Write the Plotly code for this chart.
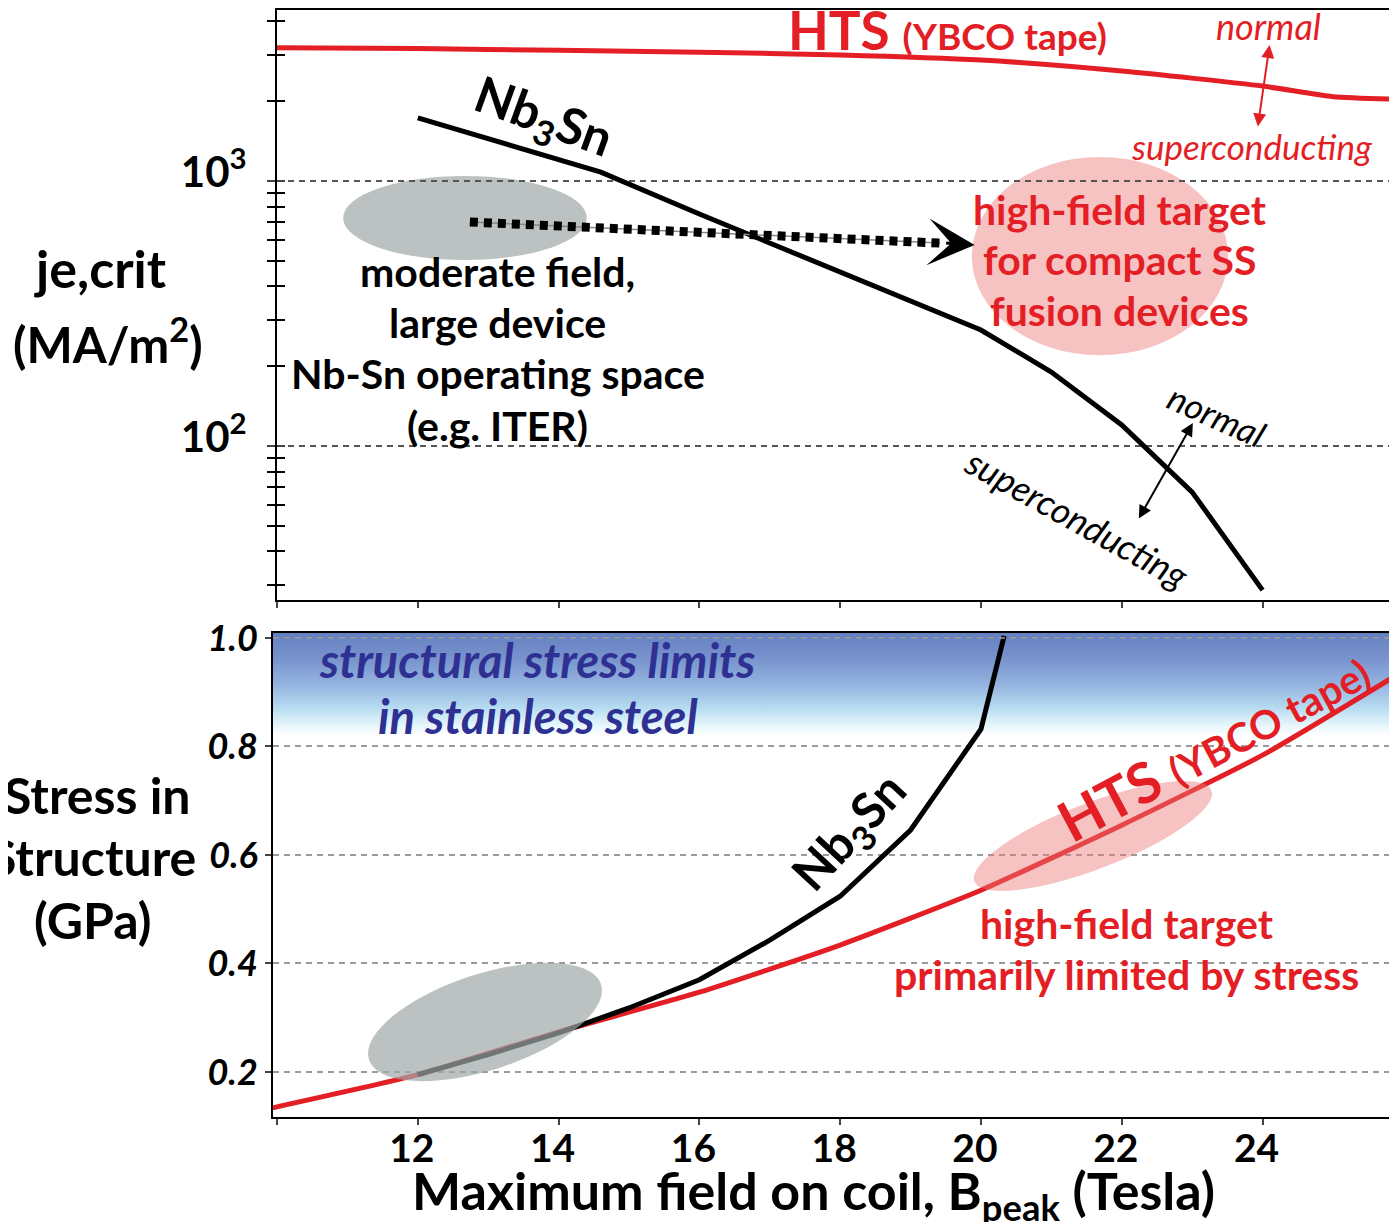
import numpy as np
import plotly.graph_objects as go

# page is drawn with an 8px body margin, so the figure is sized to fill the rest
OFF = 8
W, H = 1397 - OFF, 1222 - OFF

# ---------------- data ----------------
field_hts_top = [10, 12, 14, 16, 18, 20, 22, 24, 25, 25.8]
je_hts = [3180, 3160, 3110, 3060, 2990, 2860, 2600, 2280, 2080, 2040]
field_nb_top = [12, 14.6, 16, 18, 20, 21, 22, 23, 24]
je_nb = [1730, 1080, 750, 455, 274, 190, 120, 67, 28.6]

field_hts_bot = [9.94, 12, 14, 16, 18, 20, 22, 24, 25.91]
stress_hts = [0.134, 0.195, 0.274, 0.347, 0.434, 0.535, 0.655, 0.784, 0.932]
field_nb_bot = [12, 13, 14, 15, 16, 17, 18, 19, 20, 20.33]
stress_nb = [0.195, 0.232, 0.272, 0.318, 0.370, 0.443, 0.524, 0.646, 0.832, 1.004]

arrow_field = [12.74, 19.42]
arrow_je = [700, 583]

steel_field = [9.94, 25.91]
steel_stress = [0.82, 1.0092]

x_ticks = [10, 12, 14, 16, 18, 20, 22, 24]
x_ticktext = ["", "12", "14", "16", "18", "20", "22", "24"]
je_major = [100, 1000]
je_major_text = ["10<sup>2</sup>", "10<sup>3</sup>"]
je_minor = [30, 40, 50, 60, 70, 80, 90, 200, 300, 400, 500, 600, 700, 800, 900, 2000, 3000, 4000]
stress_ticks = [0.2, 0.4, 0.6, 0.8, 1.0]
stress_ticktext = ["0.2", "0.4", "0.6", "0.8", "1.0"]


# ---------------- geometry (page pixels -> paper) ----------------
def pxx(p):
    return (p - OFF) / W


def pxy(p):
    return 1 - (p - OFF) / H


top_dom = [pxy(600), pxy(10)]
bot_dom = [pxy(1117), pxy(633)]
xr_top = [10, 25.91]
xr_bot = [9.943, 25.91]
yr_top = [1.419, 3.645]
yr_bot = [0.117, 1.0092]

RED = "#e31e24"
BLUE = "#2e3192"
FONT = "Lato"

px_per_x = (1397 - 273) / (xr_bot[1] - xr_bot[0])
px_per_s = (1117 - 633) / (yr_bot[1] - yr_bot[0])


def ellipse_path(cx, cy, a_px, b_px, ang_deg, n=72):
    t = np.linspace(0, 2 * np.pi, n, endpoint=False)
    ang = np.radians(ang_deg)
    dx = a_px * np.cos(t) * np.cos(ang) - b_px * np.sin(t) * np.sin(ang)
    dy = a_px * np.cos(t) * np.sin(ang) + b_px * np.sin(t) * np.cos(ang)
    X = cx + dx / px_per_x
    Y = cy + dy / px_per_s
    return "M " + " L ".join(f"{a:.4f},{b:.4f}" for a, b in zip(X, Y)) + " Z"


fig = go.Figure()

# stainless steel stress limit band (gradient)
fig.add_trace(go.Scatter(
    x=[steel_field[0], steel_field[1], steel_field[1], steel_field[0]],
    y=[steel_stress[0], steel_stress[0], steel_stress[1], steel_stress[1]],
    xaxis="x2", yaxis="y2", mode="lines", line=dict(width=0), fill="toself",
    fillgradient=dict(type="vertical", colorscale=[
        [0, "#ffffff"], [0.1, "#e6f6fb"], [0.28, "#b5daf0"], [0.5, "#93b3df"],
        [0.75, "#7893cd"], [1, "#6480c0"]]),
    hoverinfo="skip", showlegend=False))

# top panel curves
fig.add_trace(go.Scatter(x=field_hts_top, y=je_hts, mode="lines",
                         line=dict(color=RED, width=5, shape="spline", smoothing=0.6),
                         xaxis="x", yaxis="y", showlegend=False, name="HTS"))
fig.add_trace(go.Scatter(x=field_nb_top, y=je_nb, mode="lines",
                         line=dict(color="black", width=5),
                         xaxis="x", yaxis="y", showlegend=False, name="Nb3Sn"))
fig.add_trace(go.Scatter(x=arrow_field, y=arrow_je, mode="lines",
                         line=dict(color="#888888", width=1.5),
                         xaxis="x", yaxis="y", showlegend=False, hoverinfo="skip"))
fig.add_trace(go.Scatter(x=arrow_field, y=arrow_je, mode="lines",
                         line=dict(color="black", width=9, dash="8px,6px"),
                         xaxis="x", yaxis="y", showlegend=False, hoverinfo="skip"))
# dummy trace hosting the tick-crossing overlay axis
fig.add_trace(go.Scatter(x=[None], y=[None], xaxis="x", yaxis="y3",
                         showlegend=False, hoverinfo="skip"))

# bottom panel curves
fig.add_trace(go.Scatter(x=field_hts_bot, y=stress_hts, mode="lines",
                         line=dict(color=RED, width=5, shape="spline", smoothing=0.5),
                         xaxis="x2", yaxis="y2", showlegend=False, name="HTS"))
fig.add_trace(go.Scatter(x=field_nb_bot, y=stress_nb, mode="lines",
                         line=dict(color="black", width=5),
                         xaxis="x2", yaxis="y2", showlegend=False, name="Nb3Sn"))

shapes = [
    dict(type="circle", xref="x", yref="y", x0=10.94, x1=14.40, y0=503, y1=1045,
         fillcolor="rgba(160,168,168,0.7)", line=dict(width=0), layer="below"),
    dict(type="circle", xref="x", yref="y", x0=19.87, x1=23.51, y0=220, y1=1232,
         fillcolor="rgba(235,120,120,0.45)", line=dict(width=0), layer="below"),
    dict(type="path", xref="x2", yref="y2", path=ellipse_path(12.955, 0.2922, 122, 48, 18),
         fillcolor="rgba(160,168,168,0.7)", line=dict(width=0), layer="above"),
    dict(type="path", xref="x2", yref="y2", path=ellipse_path(21.59, 0.635, 127, 33, 21),
         fillcolor="rgba(235,120,120,0.45)", line=dict(width=0), layer="above"),
    dict(type="line", xref="x2 domain", yref="y2", x0=0, x1=1, y0=1.0, y1=1.0,
         line=dict(color="#9a9a9a", width=1.5, dash="6px,5px"), layer="above"),
]


def txt(text, x, y, size, color="black", xref="x", yref="y", angle=0,
        italic=False, bold=True):
    return dict(text=text, x=x, y=y, xref=xref, yref=yref, showarrow=False,
                textangle=angle, xanchor="center", yanchor="middle",
                font=dict(family=FONT, size=size, color=color,
                          weight="bold" if bold else "normal",
                          style="italic" if italic else "normal"))


ann = [
    # top panel
    txt("HTS <span style='font-size:37px'>(YBCO tape)</span>", 19.53, 3.57, 53, RED),
    txt("normal", 24.08, 3.585, 36, RED, italic=True, bold=False),
    txt("superconducting", 23.85, 3.13, 35, RED, italic=True, bold=False),
    txt("Nb<sub>3</sub>Sn", 13.78, 3.235, 50, angle=20),
    txt("moderate field,", 13.139, 2.6566, 41),
    txt("large device", 13.139, 2.4642, 41),
    txt("Nb-Sn operating space", 13.139, 2.2717, 41),
    txt("(e.g. ITER)", 13.139, 2.0792, 41),
    txt("high-field target", 21.97, 2.8906, 41, RED),
    txt("for compact SS", 21.97, 2.7019, 41, RED),
    txt("fusion devices", 21.97, 2.5094, 41, RED),
    txt("normal", 23.352, 2.117, 35, angle=24, italic=True, bold=False),
    txt("superconducting", 21.364, 1.7283, 36, angle=29, italic=True, bold=False),
    # bottom panel
    txt("structural stress limits", 13.693, 0.9594, 47, BLUE, "x2", "y2", italic=True),
    txt("in stainless steel", 13.707, 0.8562, 47, BLUE, "x2", "y2", italic=True),
    txt("Nb<sub>3</sub>Sn", 18.153, 0.6406, 49, "black", "x2", "y2", angle=-47),
    txt("HTS <span style='font-size:40px'>(YBCO tape)</span>", 23.295, 0.8028, 56, RED,
        "x2", "y2", angle=-28),
    txt("high-field target", 22.074, 0.4728, 41, RED, "x2", "y2"),
    txt("primarily limited by stress", 22.074, 0.3788, 41, RED, "x2", "y2"),
    # axis titles
    txt("je,crit", pxx(100), pxy(268), 52, xref="paper", yref="paper"),
    txt("(MA/m<sup>2</sup>)", pxx(108), pxy(340), 49, xref="paper", yref="paper"),
    txt("Stress in", pxx(97), pxy(795), 50, xref="paper", yref="paper"),
    txt("Structure", pxx(92), pxy(857), 50, xref="paper", yref="paper"),
    txt("(GPa)", pxx(92), pxy(920), 50, xref="paper", yref="paper"),
    txt("Maximum field on coil, B<sub>peak</sub> (Tesla)", pxx(813), pxy(1194), 52,
        xref="paper", yref="paper"),
]

# arrows
ann += [
    dict(x=19.91, y=2.7585, xref="x", yref="y", ax=-30, ay=-2, text="", showarrow=True,
         arrowhead=3, arrowsize=2.6, arrowwidth=3, arrowcolor="black", standoff=0),
    dict(x=24.10, y=3.513, xref="x", yref="y", ax=23.93, ay=3.20, axref="x", ayref="y",
         text="", showarrow=True, arrowside="end+start", arrowhead=2, startarrowhead=2,
         arrowsize=1.3, startarrowsize=1.3, arrowwidth=2, arrowcolor=RED),
    dict(x=23.01, y=2.0868, xref="x", yref="y", ax=22.23, ay=1.7208, axref="x", ayref="y",
         text="", showarrow=True, arrowside="end+start", arrowhead=2, startarrowhead=2,
         arrowsize=1.3, startarrowsize=1.3, arrowwidth=2, arrowcolor="black"),
]

fig.update_layout(
    width=W, height=H, template="none",
    margin=dict(l=0, r=0, t=0, b=0, pad=0),
    paper_bgcolor="white", plot_bgcolor="rgba(0,0,0,0)",
    showlegend=False,
    shapes=shapes, annotations=ann,
    xaxis=dict(domain=[pxx(277), 1], range=xr_top, anchor="y", tickvals=x_ticks,
               showticklabels=False, ticks="outside", ticklen=6, tickwidth=2,
               showline=True, linewidth=2, linecolor="black", mirror=True,
               showgrid=False, zeroline=False, automargin=False),
    yaxis=dict(domain=top_dom, type="log", range=yr_top, anchor="x",
               tickvals=je_major, ticktext=je_major_text,
               tickfont=dict(family=FONT, size=42, color="black", weight="bold"),
               ticks="outside", ticklen=8, tickwidth=2, ticklabelstandoff=12,
               ticklabelshift=-9,
               minor=dict(tickmode="array", tickvals=je_minor, ticks="outside",
                          ticklen=8, tickwidth=1.5, tickcolor="black", showgrid=False),
               showline=True, linewidth=2, linecolor="black",
               showgrid=True, gridcolor="#555555", gridwidth=1.5, griddash="6px,5px",
               zeroline=False, automargin=False),
    yaxis3=dict(domain=top_dom, type="log", range=yr_top, anchor="x", overlaying="y",
                side="left", tickvals=je_major, showticklabels=False,
                ticks="inside", ticklen=8, tickwidth=2,
                minor=dict(tickmode="array", tickvals=je_minor, ticks="inside",
                           ticklen=8, tickwidth=1.5, tickcolor="black", showgrid=False),
                showline=False, showgrid=False, zeroline=False, automargin=False),
    xaxis2=dict(domain=[pxx(273), 1], range=xr_bot, anchor="y2", tickvals=x_ticks,
                ticktext=x_ticktext,
                tickfont=dict(family=FONT, size=39, color="black", weight="bold"),
                ticks="outside", ticklen=6, tickwidth=2,
                ticklabelstandoff=-10, ticklabelshift=-6,
                showline=True, linewidth=2, linecolor="black", mirror=True,
                showgrid=False, zeroline=False, automargin=False),
    yaxis2=dict(domain=bot_dom, range=yr_bot, anchor="x2", tickvals=stress_ticks,
                ticktext=stress_ticktext,
                tickfont=dict(family=FONT, size=36, color="black", weight="bold",
                              style="italic"),
                ticks="outside", ticklen=6, tickwidth=2,
                showline=True, linewidth=2, linecolor="black",
                showgrid=True, gridcolor="#9a9a9a", gridwidth=1.5, griddash="6px,5px",
                zeroline=False, automargin=False),
)

fig.write_html("out.html")
